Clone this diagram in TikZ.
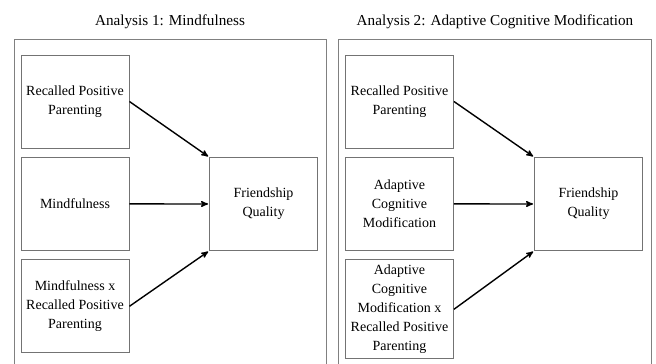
\documentclass[tikz,border=0pt]{standalone}
\usepackage{fontspec}
\setmainfont{Liberation Serif}
\usetikzlibrary{arrows,positioning}

\tikzset{
  var/.style={draw=black!55,line width=0.9pt,minimum width=108pt,minimum height=93pt,
    align=center,inner sep=1pt,font=\fontsize{14}{19}\selectfont},
  frame/.style={draw=black!50,line width=0.9pt},
  path/.style={->,line width=1.4pt,shorten >=1pt},
  title/.style={font=\fontsize{15.2}{19}\selectfont}
}

\begin{document}
\begin{tikzpicture}[>=stealth',x=1pt,y=-1pt,node distance=8.5pt]
  \useasboundingbox (0,0) rectangle (656,364);

  % panel frames, open at the bottom
  \draw[frame] (14,366) |- (326,39) -- (326,366);
  \draw[frame] (338,366) |- (651,39) -- (651,366);

  \node[title] (t1) at (170,22) {Analysis 1: Mindfulness};
  \node[title] (t2) at (495,22) {Analysis 2: Adaptive Cognitive Modification};

  % analysis 1
  \node[var] (rpp1) at (75,101.5) {Recalled Positive\\Parenting};
  \node[var] (mind) [below=of rpp1] {Mindfulness};
  \node[var] (int1) [below=of mind] {Mindfulness x\\Recalled Positive\\Parenting};
  \node[var] (fq1) at (263.5,204) {Friendship\\Quality};

  \path[path] (rpp1.east) edge (fq1.north west)
              (mind) edge (fq1)
              (int1.east) edge (fq1.south west);

  % analysis 2
  \node[var] (rpp2) at (399.5,101.5) {Recalled Positive\\Parenting};
  \node[var] (acm) [below=of rpp2] {Adaptive\\Cognitive\\Modification};
  \node[var,minimum height=99pt] (int2) [below=of acm] {Adaptive\\Cognitive\\Modification x\\Recalled Positive\\Parenting};
  \node[var] (fq2) at (588.5,204) {Friendship\\Quality};

  \path[path] (rpp2.east) edge (fq2.north west)
              (acm) edge (fq2)
              (int2.east) edge (fq2.south west);
\end{tikzpicture}
\end{document}
